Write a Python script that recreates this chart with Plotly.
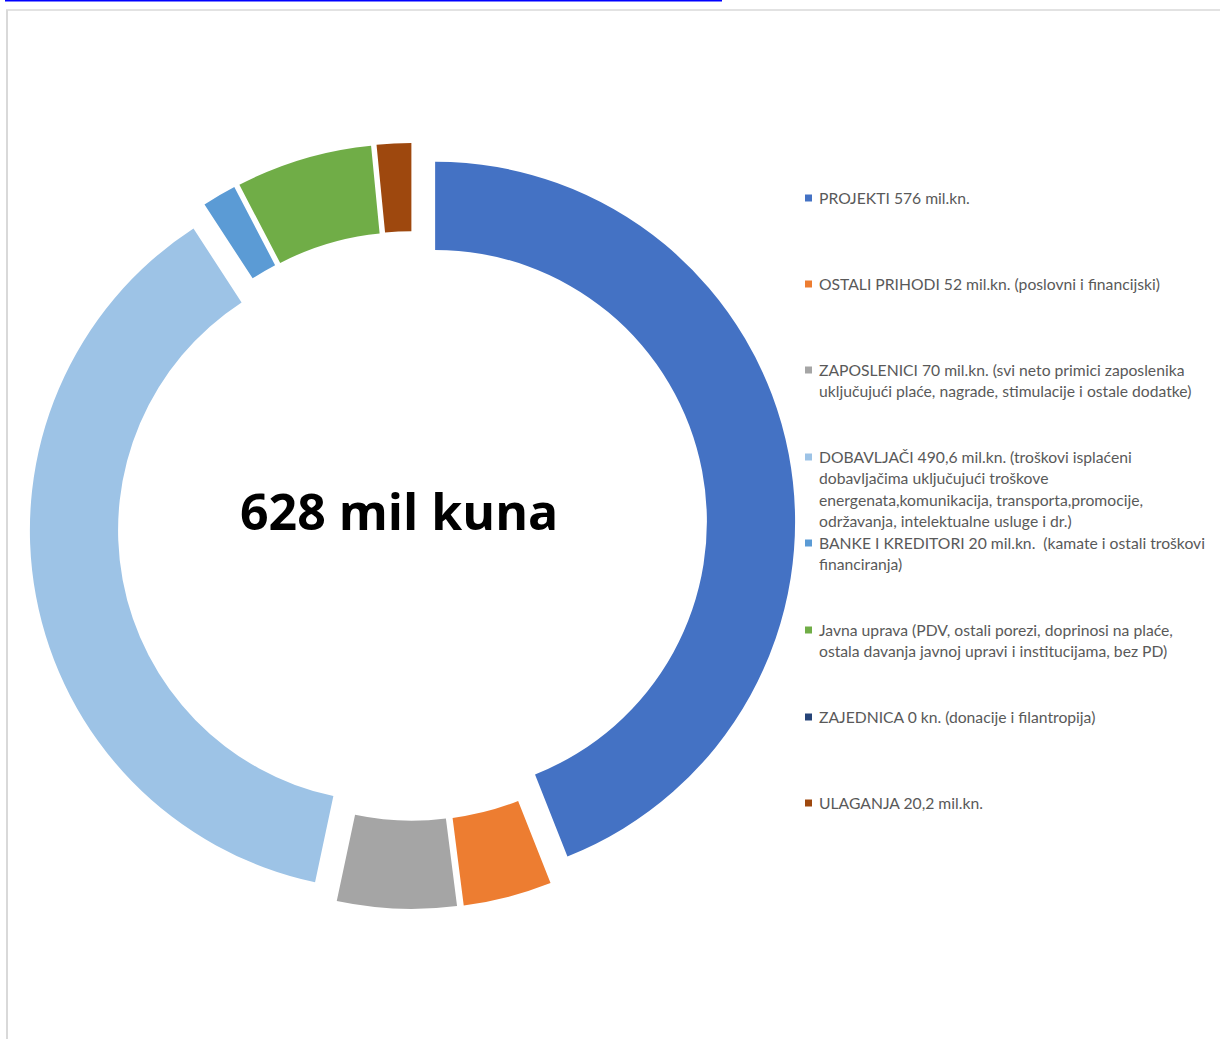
import plotly.graph_objects as go

W, H = 1220, 1039

labels = [
    "PROJEKTI 576 mil.kn.",
    "OSTALI PRIHODI 52 mil.kn. (poslovni i financijski)",
    "ZAPOSLENICI 70 mil.kn. (svi neto primici zaposlenika uključujući plaće, nagrade, stimulacije i ostale dodatke)",
    "DOBAVLJAČI 490,6 mil.kn. (troškovi isplaćeni dobavljačima uključujući troškove energenata,komunikacija, transporta,promocije, održavanja, intelektualne usluge i dr.)",
    "BANKE I KREDITORI 20 mil.kn.  (kamate i ostali troškovi financiranja)",
    "Javna uprava (PDV, ostali porezi, doprinosi na plaće, ostala davanja javnoj upravi i institucijama, bez PD)",
    "ZAJEDNICA 0 kn. (donacije i filantropija)",
    "ULAGANJA 20,2 mil.kn.",
]
values = [576, 52, 70, 490.6, 20, 80, 0, 20.2]
colors = ["#4472C4", "#ED7D31", "#A5A5A5", "#9DC3E6", "#5B9BD5", "#70AD47", "#264478", "#9E480E"]

legend_lines = [
    ["PROJEKTI 576 mil.kn."],
    ["OSTALI PRIHODI 52 mil.kn. (poslovni i financijski)"],
    ["ZAPOSLENICI 70 mil.kn. (svi neto primici zaposlenika",
     "uključujući plaće, nagrade, stimulacije i ostale dodatke)"],
    ["DOBAVLJAČI 490,6 mil.kn. (troškovi isplaćeni",
     "dobavljačima uključujući troškove",
     "energenata,komunikacija, transporta,promocije,",
     "održavanja, intelektualne usluge i dr.)"],
    ["BANKE I KREDITORI 20 mil.kn.  (kamate i ostali troškovi",
     "financiranja)"],
    ["Javna uprava (PDV, ostali porezi, doprinosi na plaće,",
     "ostala davanja javnoj upravi i institucijama, bez PD)"],
    ["ZAJEDNICA 0 kn. (donacije i filantropija)"],
    ["ULAGANJA 20,2 mil.kn."],
]
center_text = "628 mil kuna"

# pixel helpers
def px(x):
    return x / W

def py(y):
    return 1 - y / H

fig = go.Figure()
fig.add_trace(go.Pie(
    labels=labels,
    values=values,
    marker=dict(colors=colors, line=dict(width=0)),
    hole=0.755,
    pull=[0.064] * len(values),
    direction="clockwise",
    rotation=0,
    sort=False,
    textinfo="none",
    showlegend=False,
    domain=dict(x=[px(29.5), px(795.5)], y=[py(909), py(143)]),
))

annotations = []
shapes = []
first_line_y = [198, 284, 370, 457, 543, 630, 717, 803]
line_h = 21.3
for i, lines in enumerate(legend_lines):
    y0 = first_line_y[i]
    shapes.append(dict(type="rect", xref="paper", yref="paper",
                       x0=px(805), x1=px(812), y0=py(y0 + 3.5), y1=py(y0 - 3.5),
                       fillcolor=colors[i], line=dict(width=0)))
    for j, ln in enumerate(lines):
        annotations.append(dict(
            text=ln, xref="paper", yref="paper",
            x=px(817), y=py(y0 + j * line_h), xanchor="left", yanchor="middle",
            showarrow=False,
            font=dict(family="Lato", size=15.7, color="#595959"),
        ))

annotations.append(dict(
    text="<b>" + center_text + "</b>", xref="paper", yref="paper",
    x=px(398.5), y=py(511), xanchor="center", yanchor="middle", showarrow=False,
    font=dict(family="Open Sans", size=50, color="#000000"),
))

# page decorations: blue link underline and chart border
shapes.append(dict(type="line", xref="paper", yref="paper",
                   x0=px(5), x1=px(722), y0=py(0.8), y1=py(0.8),
                   line=dict(color="#0000FF", width=1.6)))
shapes.append(dict(type="line", xref="paper", yref="paper",
                   x0=px(6), x1=px(1220), y0=py(10), y1=py(10),
                   line=dict(color="#D9D9D9", width=1.5)))
shapes.append(dict(type="line", xref="paper", yref="paper",
                   x0=px(7), x1=px(7), y0=py(10), y1=py(1039),
                   line=dict(color="#D9D9D9", width=2)))

fig.update_layout(
    width=W, height=H,
    margin=dict(l=0, r=0, t=0, b=0),
    paper_bgcolor="white",
    plot_bgcolor="white",
    annotations=annotations,
    shapes=shapes,
    showlegend=False,
)

fig.write_html(
    "out.html",
    config={"displayModeBar": False},
    post_script="document.body.style.margin='0';document.body.style.overflow='hidden';",
)
